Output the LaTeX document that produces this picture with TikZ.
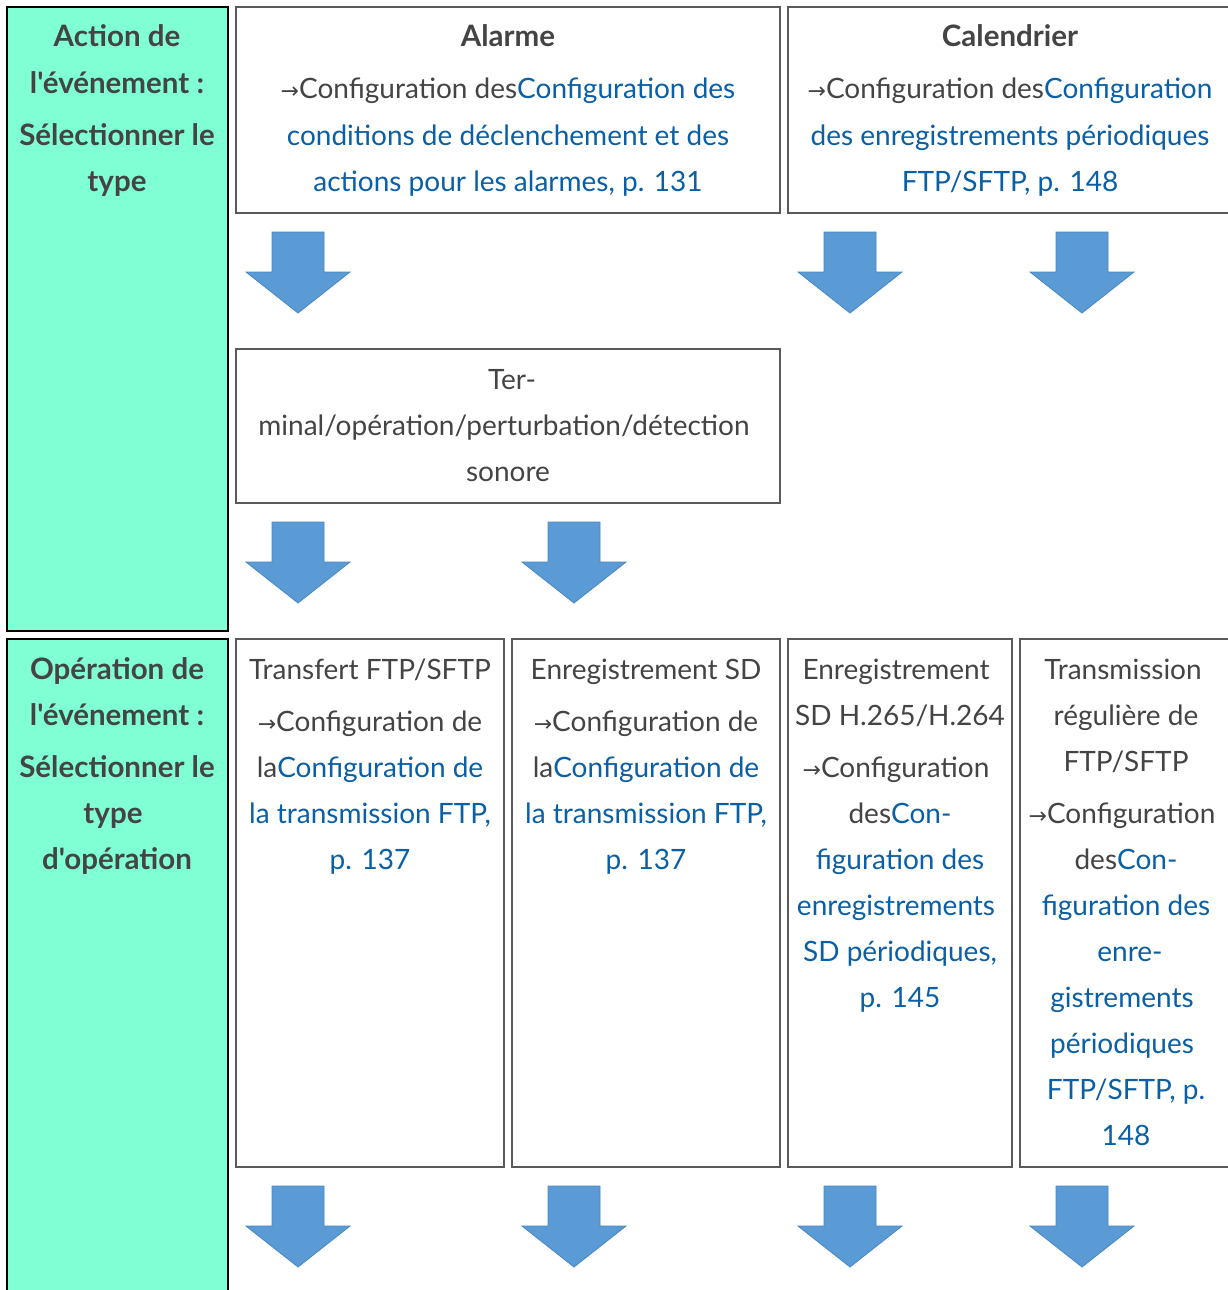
\documentclass[tikz,border=0pt]{standalone}
\usepackage{fontspec}
\setmainfont{Lato}[Ligatures=TeXOff]
\newfontfamily\arrowfont{DejaVu Sans}
\definecolor{txtgray}{HTML}{444444}
\definecolor{linkblue}{HTML}{0B5FA5}
\definecolor{greenfill}{HTML}{80FFD4}
\definecolor{boxgray}{HTML}{5A5A5A}
\definecolor{arrowblue}{HTML}{5B9BD5}
\definecolor{arrowedge}{HTML}{4A86C0}
\newcommand{\ar}{{\arrowfont\fontsize{22}{22}\selectfont →}}
\newcommand{\lk}[1]{\textcolor{linkblue}{#1}}
\begin{document}
\begin{tikzpicture}[x=1pt,y=-1pt,
  gbox/.style={draw=black, fill=greenfill, line width=2pt, anchor=north west, inner sep=0pt, outer sep=0pt},
  wbox/.style={draw=boxgray, fill=white, line width=2pt, anchor=north west, inner sep=0pt, outer sep=0pt},
  t/.style={anchor=base, inner sep=0pt, text=txtgray, font=\fontsize{28}{30}\selectfont},
  tb/.style={t, font=\fontsize{29.5}{30}\selectfont\bfseries},
  bigarrow/.pic={\fill[arrowblue, draw=arrowedge, line width=0.8pt] (-26,0) -- (26,0) -- (26,40) -- (52,40) -- (0,81) -- (-52,40) -- (-26,40) -- cycle;}
]
\path[use as bounding box] (0,0) rectangle (1228,1290);
\clip (0,0) rectangle (1228,1290);
\fill[white] (0,0) rectangle (1228,1290);

% boxes
\node[gbox, minimum width=221pt, minimum height=624pt] (g1) at (7,7) {};
\node[gbox, minimum width=221pt, minimum height=670pt] (g2) at (7,639) {};
\node[wbox, minimum width=544pt, minimum height=206pt] (alarme) at (236,7) {};
\node[wbox, minimum width=444pt, minimum height=206pt] (cal) at (788,7) {};
\node[wbox, minimum width=544pt, minimum height=154pt] (term) at (236,349) {};
\node[wbox, minimum width=268pt, minimum height=528pt] (b1) at (236,639) {};
\node[wbox, minimum width=268pt, minimum height=528pt] (b2) at (512,639) {};
\node[wbox, minimum width=224pt, minimum height=528pt] (b3) at (788,639) {};
\node[wbox, minimum width=212pt, minimum height=528pt] (b4) at (1020,639) {};

% arrows
\pic at (298,232) {bigarrow};
\pic at (850,232) {bigarrow};
\pic at (1082,232) {bigarrow};
\pic at (298,522) {bigarrow};
\pic at (574,522) {bigarrow};
\pic at (298,1186) {bigarrow};
\pic at (574,1186) {bigarrow};
\pic at (850,1186) {bigarrow};
\pic at (1082,1186) {bigarrow};

% green 1
\node[tb] (g1a) at (117,47) {Action de};
\node[tb] (g1b) at (117,93) {l'événement :};
\node[tb] (g1c) at (117,145) {Sélectionner le};
\node[tb] (g1d) at (117,191) {type};

% alarme
\node[tb] (al1) at (508,47) {Alarme};
\node[t] (al2) at (508,99) {\ar Configuration des\lk{Configuration des}};
\node[t, text=linkblue] (al3) at (508,145) {conditions de déclenchement et des};
\node[t, text=linkblue] (al4) at (508,191) {actions pour les alarmes, p. 131};

% calendrier
\node[tb] (ca1) at (1010,47) {Calendrier};
\node[t] (ca2) at (1010,99) {\ar Configuration des\lk{Configuration}};
\node[t, text=linkblue] (ca3) at (1010,145) {des enregistrements périodiques};
\node[t, text=linkblue] (ca4) at (1010,191) {FTP/SFTP, p. 148};

% terminal
\node[t] (te1) at (512,389) {Ter-};
\node[t] (te2) at (504,435) {minal/opération/perturbation/détection};
\node[t] (te3) at (508,481) {sonore};

% green 2
\node[tb] (g2a) at (117,679) {Opération de};
\node[tb] (g2b) at (117,725) {l'événement :};
\node[tb] (g2c) at (117,777) {Sélectionner le};
\node[tb] (g2d) at (113,823) {type};
\node[tb] (g2e) at (117,869) {d'opération};

% box 1
\node[t] (b1a) at (370,679) {Transfert FTP/SFTP};
\node[t] (b1b) at (370,731) {\ar Configuration de};
\node[t] (b1c) at (370,777) {la\lk{Configuration de}};
\node[t, text=linkblue] (b1d) at (370,823) {la transmission FTP,};
\node[t, text=linkblue] (b1e) at (370,869) {p. 137};

% box 2
\node[t] (b2a) at (646,679) {Enregistrement SD};
\node[t] (b2b) at (646,731) {\ar Configuration de};
\node[t] (b2c) at (646,777) {la\lk{Configuration de}};
\node[t, text=linkblue] (b2d) at (646,823) {la transmission FTP,};
\node[t, text=linkblue] (b2e) at (646,869) {p. 137};

% box 3
\node[t] (b3a) at (896,679) {Enregistrement};
\node[t] (b3b) at (900,725) {SD H.265/H.264};
\node[t] (b3c) at (896,777) {\ar Configuration};
\node[t] (b3d) at (900,823) {des\lk{Con-}};
\node[t, text=linkblue] (b3e) at (900,869) {figuration des};
\node[t, text=linkblue] (b3f) at (896,915) {enregistrements};
\node[t, text=linkblue] (b3g) at (900,961) {SD périodiques,};
\node[t, text=linkblue] (b3h) at (900,1007) {p. 145};

% box 4
\node[t] (b4a) at (1123,679) {Transmission};
\node[t] (b4b) at (1126,725) {régulière de};
\node[t] (b4c) at (1126,771) {FTP/SFTP};
\node[t] (b4d) at (1122,823) {\ar Configuration};
\node[t] (b4e) at (1126,869) {des\lk{Con-}};
\node[t, text=linkblue] (b4f) at (1126,915) {figuration des};
\node[t, text=linkblue] (b4g) at (1130,961) {enre-};
\node[t, text=linkblue] (b4h) at (1122,1007) {gistrements};
\node[t, text=linkblue] (b4i) at (1122,1053) {périodiques};
\node[t, text=linkblue] (b4j) at (1126,1099) {FTP/SFTP, p.};
\node[t, text=linkblue] (b4k) at (1126,1145) {148};
\end{tikzpicture}
\end{document}
